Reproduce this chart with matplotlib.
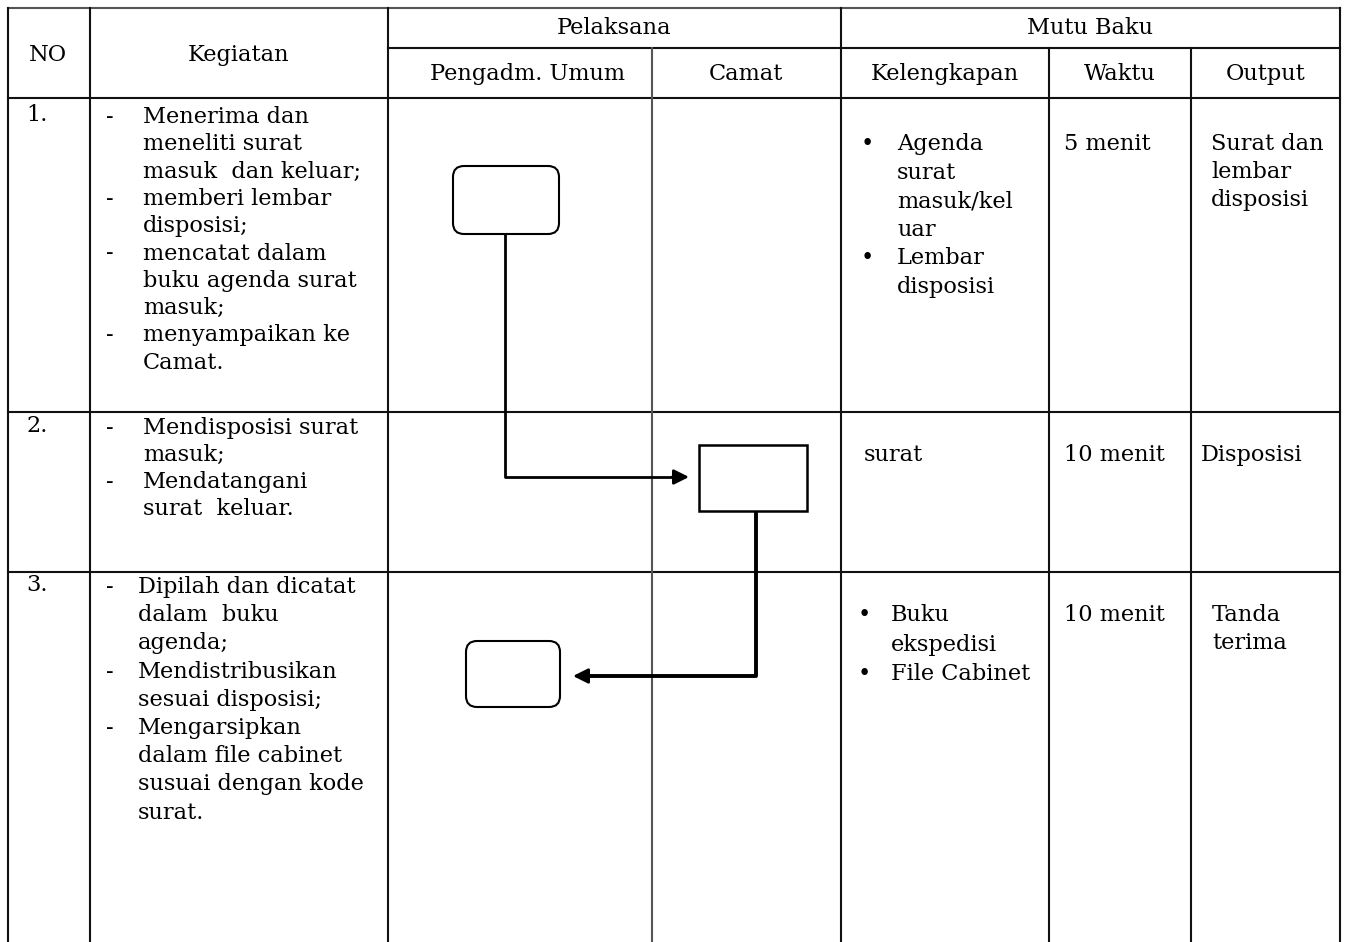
import matplotlib
matplotlib.use("Agg")
import matplotlib.pyplot as plt
from matplotlib.patches import FancyBboxPatch, Rectangle

# table content
row_numbers = ["1.", "2.", "3."]
kegiatan = [
    [["Menerima dan", "meneliti surat", "masuk  dan keluar;"],
     ["memberi lembar", "disposisi;"],
     ["mencatat dalam", "buku agenda surat", "masuk;"],
     ["menyampaikan ke", "Camat."]],
    [["Mendisposisi surat", "masuk;"],
     ["Mendatangani", "surat  keluar."]],
    [["Dipilah dan dicatat", "dalam  buku", "agenda;"],
     ["Mendistribusikan", "sesuai disposisi;"],
     ["Mengarsipkan", "dalam file cabinet", "susuai dengan kode", "surat."]],
]
kelengkapan = [
    [["Agenda", "surat", "masuk/kel", "uar"], ["Lembar", "disposisi"]],
    None,
    [["Buku", "ekspedisi"], ["File Cabinet"]],
]
kelengkapan_plain = [None, "surat", None]
waktu = ["5 menit", "10 menit", "10 menit"]
output = [["Surat dan", "lembar", "disposisi"], ["Disposisi"], ["Tanda", "terima"]]

col_x = [8, 90, 388, 652, 841, 1049, 1191, 1340]
row_y = [8, 48, 98, 412, 572, 942]

W, H = 1345, 942
fig = plt.figure(figsize=(W / 100, H / 100), dpi=100)
ax = fig.add_axes([0, 0, 1, 1])
ax.set_xlim(0, W)
ax.set_ylim(H, 0)
ax.axis("off")

plt.rcParams["font.family"] = "DejaVu Serif"
fs = 16.2
dark = "#111111"
grey = "#555555"

# grid lines
ax.plot([col_x[0], col_x[-1]], [row_y[0], row_y[0]], color=grey, lw=1.5)
ax.plot([col_x[2], col_x[-1]], [row_y[1], row_y[1]], color=dark, lw=1.5)
for y in row_y[2:5]:
    ax.plot([col_x[0], col_x[-1]], [y, y], color=dark, lw=1.5)
for i, x in enumerate(col_x):
    top = row_y[1] if i in (3, 5, 6) else row_y[0]
    c = grey if i == 3 else dark
    ax.plot([x, x], [top, row_y[-1]], color=c, lw=1.5)

# header text
hdr = dict(ha="center", va="center", fontsize=fs, color="black")
ax.text(48, 55, "NO", **hdr)
ax.text(239, 55, "Kegiatan", **hdr)
ax.text(614, 28, "Pelaksana", **hdr)
ax.text(1090, 28, "Mutu Baku", **hdr)
for name, cx in zip(["Pengadm. Umum", "Camat", "Kelengkapan", "Waktu", "Output"],
                    [527, 746, 945, 1120, 1266]):
    ax.text(cx, 74, name, **hdr)

txt = dict(ha="left", va="center", fontsize=fs, color="black")
row_first = [117, 428, 587]
row_lh = [27.3, 27.0, 28.2]
kel_first = [144, 455, 615]
kel_lh = [28.6, 28, 29.5]

for r in range(3):
    ax.text(26, row_first[r] - 2, row_numbers[r], **txt)
    y = row_first[r]
    tx = 143 if r < 2 else 138
    for item in kegiatan[r]:
        ax.text(106, y, "-", **txt)
        for line in item:
            ax.text(tx, y, line, **txt)
            y += row_lh[r]
    # kelengkapan
    y = kel_first[r]
    if kelengkapan[r] is not None:
        bx = 861 if r == 0 else 858
        tx2 = 897 if r == 0 else 891
        for item in kelengkapan[r]:
            ax.text(bx, y, "\u2022", **txt)
            for line in item:
                ax.text(tx2, y, line, **txt)
                y += kel_lh[r]
    else:
        ax.text(864, y, kelengkapan_plain[r], **txt)
    ax.text(1064, kel_first[r], waktu[r], **txt)
    ox = [1211, 1201, 1212][r]
    y = kel_first[r]
    for line in output[r]:
        ax.text(ox, y, line, **txt)
        y += 28

# flowchart shapes
def rbox(x0, y0, x1, y1):
    ax.add_patch(FancyBboxPatch((x0, y0), x1 - x0, y1 - y0,
                                boxstyle="round,pad=0,rounding_size=11",
                                fc="white", ec="black", lw=1.5, zorder=3))

rbox(453, 166, 559, 234)
rbox(466, 641, 560, 707)
ax.add_patch(Rectangle((699, 445), 108, 66, fc="white", ec="black", lw=1.8, zorder=3))

ax.plot([505, 505, 676], [234, 477, 477], color="black", lw=2, zorder=2)
ax.annotate("", xy=(689, 477), xytext=(672, 477),
            arrowprops=dict(arrowstyle="-|>,head_length=0.9,head_width=0.45",
                            color="black", lw=2, shrinkA=0, shrinkB=0))
ax.plot([756, 756, 586], [511, 676, 676], color="black", lw=2.8, zorder=2)
ax.annotate("", xy=(573, 676), xytext=(590, 676),
            arrowprops=dict(arrowstyle="-|>,head_length=0.9,head_width=0.45",
                            color="black", lw=2, shrinkA=0, shrinkB=0))

fig.savefig("out.png", dpi=100, facecolor="white")
